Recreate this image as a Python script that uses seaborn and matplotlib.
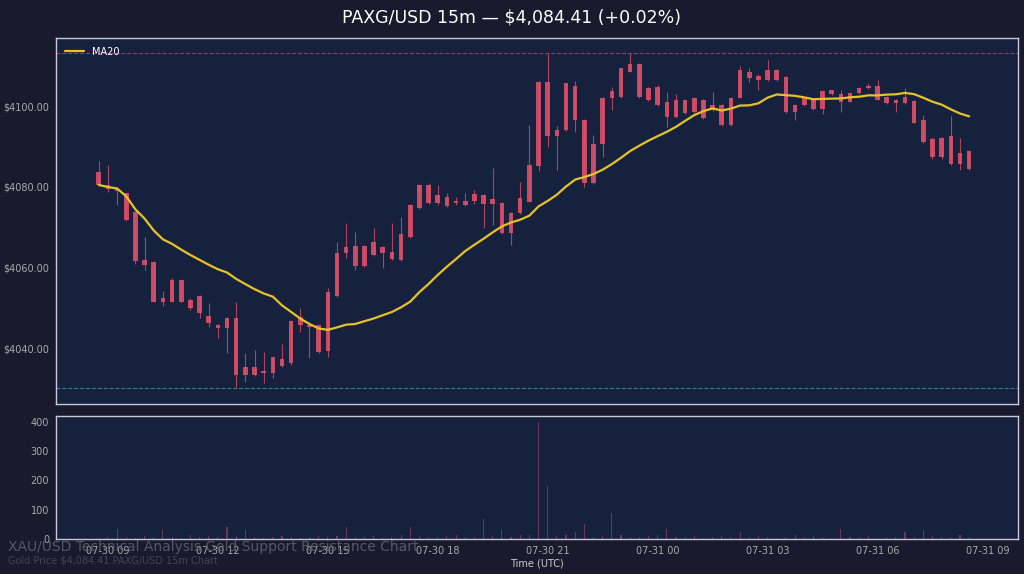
import numpy as np
import pandas as pd
import matplotlib
matplotlib.use("Agg")
import matplotlib.pyplot as plt
import matplotlib.dates as mdates
import seaborn as sns

opens = [4083.8,4080.5,4079.7,4078.4,4073.9,4062.0,4061.5,4052.7,4051.7,4057.0,
         4052.0,4053.0,4048.2,4046.0,4045.2,4047.6,4033.6,4035.5,4034.0,4034.0,
         4035.8,4036.5,4047.9,4045.8,4045.8,4039.5,4053.0,4063.6,4065.4,4060.4,
         4066.5,4063.6,4064.0,4062.0,4067.7,4074.8,4080.5,4076.0,4077.6,4076.5,
         4075.5,4076.5,4078.0,4075.8,4076.1,4068.6,4073.5,4076.4,4085.3,4106.0,
         4092.5,4094.0,4105.0,4096.5,4080.9,4090.6,4101.9,4102.3,4110.5,4110.5,
         4104.4,4104.8,4101.0,4097.4,4101.6,4098.5,4101.6,4100.3,4100.3,4095.3,
         4102.1,4108.5,4107.5,4106.4,4109.0,4107.1,4098.4,4100.2,4101.6,4099.2,
         4103.9,4103.0,4101.1,4103.1,4104.5,4105.0,4102.3,4101.5,4100.7,4101.3,
         4096.5,4091.8,4087.3,4092.5,4088.3,4089.0]
closes = [4080.5,4079.5,4078.9,4071.9,4061.6,4060.8,4051.7,4051.7,4057.0,4051.7,
          4050.0,4048.8,4046.3,4045.2,4047.6,4033.6,4035.5,4033.6,4034.5,4037.9,
          4037.5,4047.0,4046.0,4045.4,4039.3,4054.1,4063.6,4065.3,4060.4,4065.4,
          4063.2,4065.2,4062.2,4068.5,4075.6,4080.5,4076.0,4078.0,4075.2,4076.0,
          4076.5,4078.2,4075.8,4077.0,4068.6,4073.5,4077.2,4085.4,4106.0,4092.5,
          4094.0,4105.6,4096.5,4080.9,4090.6,4101.9,4103.6,4109.3,4108.5,4102.3,
          4101.5,4100.2,4097.4,4101.5,4098.2,4101.9,4097.0,4099.0,4095.3,4102.1,
          4108.9,4106.8,4106.4,4108.9,4106.4,4098.4,4100.2,4101.9,4099.2,4103.8,
          4103.0,4101.1,4103.1,4104.4,4105.0,4101.6,4100.7,4100.7,4102.2,4095.9,
          4091.0,4087.3,4092.0,4085.7,4085.8,4084.4]
highs = [4086.3,4085.4,4080.0,4078.6,4074.0,4067.7,4061.6,4054.2,4057.5,4057.2,
         4052.5,4053.2,4051.3,4046.2,4047.8,4051.7,4038.9,4039.7,4039.3,4038.0,
         4041.3,4047.2,4050.0,4046.3,4046.0,4055.0,4066.5,4071.0,4069.0,4065.6,
         4069.8,4065.5,4071.2,4072.7,4075.8,4080.7,4081.0,4080.5,4078.5,4077.5,
         4078.5,4079.2,4078.3,4084.6,4076.3,4073.8,4081.3,4095.3,4106.2,4113.0,
         4095.0,4105.8,4106.3,4096.7,4092.8,4102.2,4104.8,4109.5,4113.0,4110.7,
         4104.6,4105.2,4103.5,4103.0,4101.8,4102.2,4101.8,4103.5,4100.5,4102.3,
         4110.0,4109.3,4108.0,4111.4,4109.2,4107.3,4100.5,4102.2,4101.8,4104.0,
         4104.0,4103.9,4103.3,4104.6,4105.6,4106.4,4102.5,4101.8,4104.5,4101.5,
         4097.8,4092.3,4092.3,4097.5,4092.0,4089.2]
lows = [4080.3,4078.8,4075.6,4071.5,4061.0,4059.5,4051.5,4050.5,4051.5,4051.5,
        4049.6,4047.6,4045.5,4042.6,4038.9,4030.3,4031.9,4033.2,4031.5,4032.8,
        4035.6,4036.0,4044.3,4037.7,4038.9,4038.1,4052.8,4062.4,4059.5,4060.2,
        4063.0,4059.9,4061.9,4061.8,4067.5,4074.6,4075.8,4075.6,4075.0,4075.6,
        4075.2,4075.8,4069.8,4070.6,4068.4,4065.7,4073.3,4076.2,4084.0,4090.0,
        4084.2,4093.8,4093.7,4080.0,4080.7,4087.5,4099.0,4102.1,4108.3,4102.1,
        4101.3,4100.0,4094.9,4097.0,4098.0,4098.3,4096.8,4098.8,4095.1,4095.1,
        4101.9,4106.0,4104.0,4106.2,4106.2,4098.2,4096.5,4100.0,4099.0,4098.0,
        4102.8,4098.6,4100.9,4102.9,4104.3,4101.4,4100.5,4098.6,4100.5,4095.7,
        4090.8,4087.0,4087.0,4085.5,4084.2,4084.2]
volumes = [5,8,35,6,4,10,8,30,6,5,12,8,10,6,40,9,30,6,5,8,
           10,6,5,8,10,6,9,40,8,6,10,5,8,12,40,9,6,8,10,12,
           8,6,70,10,30,8,12,15,400,180,10,12,25,50,8,10,90,12,8,6,
           10,12,35,8,6,10,5,8,10,6,25,8,10,6,5,8,12,6,10,8,
           5,35,8,6,10,5,8,6,25,8,30,10,6,8,12,6]

t0 = pd.Timestamp("2025-07-30 08:45")
times = pd.date_range(t0, periods=len(closes), freq="15min")
df = pd.DataFrame({"time": times, "open": opens, "high": highs, "low": lows,
                   "close": closes, "volume": volumes})
df["MA20"] = df["close"].rolling(20, min_periods=1).mean()

sns.set_theme(style="dark")
BG = "#1a1a2e"
AX = "#16213e"
CANDLE = "#e04f68"
plt.rcParams["font.family"] = ["DejaVu Sans"]

fig = plt.figure(figsize=(10.24, 5.74), dpi=100, facecolor=BG)
ax = fig.add_axes([56/1024, 1-404/574, (1018-56)/1024, (404-38)/574], facecolor=AX)
axv = fig.add_axes([56/1024, 1-539/574, (1018-56)/1024, (539-416)/574], facecolor=AX, sharex=ax)

w = pd.Timedelta(minutes=15) * 0.5
ax.vlines(df["time"], df["low"], df["high"], color=CANDLE, linewidth=0.8, alpha=0.75)
body_lo = np.minimum(df["open"], df["close"])
body_h = np.maximum(np.abs(df["close"] - df["open"]), 0.3)
ax.bar(df["time"], body_h, bottom=body_lo, width=w, color=CANDLE, alpha=0.9,
       edgecolor="none", linewidth=0)
sns.lineplot(data=df, x="time", y="MA20", ax=ax, color="#e6c229", linewidth=1.6, label="MA20")

ax.axhline(df["high"].max(), color="#c0506a", linestyle="--", linewidth=0.8, alpha=0.7)
ax.axhline(df["low"].min(), color="#3aa6b0", linestyle="--", linewidth=0.8, alpha=0.7)

ax.set_ylim(4026.4, 4116.8)
ax.set_xlim(pd.Timestamp("2025-07-30 07:35"), pd.Timestamp("2025-07-31 09:50"))
ax.set_yticks([4040, 4060, 4080, 4100])
ax.yaxis.set_major_formatter(matplotlib.ticker.FuncFormatter(lambda v, p: f"${v:.2f}"))
ax.set_xlabel("")
ax.set_ylabel("")
ax.tick_params(axis="x", labelbottom=False, colors="#aaaaaa", length=3)
ax.tick_params(axis="y", colors="#aaaaaa", labelsize=7, length=3, pad=2)
leg = ax.legend(loc="upper left", frameon=False, fontsize=7)
for t in leg.get_texts():
    t.set_color("white")

axv.bar(df["time"], df["volume"], width=pd.Timedelta(minutes=15)*0.12, color="#b04a6a",
        alpha=0.55, edgecolor="none", linewidth=0)
axv.set_ylim(0, 420)
axv.set_yticks([0, 100, 200, 300, 400])
axv.xaxis.set_major_locator(mdates.HourLocator(byhour=[0, 3, 6, 9, 12, 15, 18, 21]))
axv.xaxis.set_major_formatter(mdates.DateFormatter("%m-%d %H"))
axv.tick_params(axis="both", colors="#aaaaaa", labelsize=7, length=3, pad=2)
axv.set_xlabel("Time (UTC)", color="#cccccc", fontsize=7, labelpad=2)
axv.set_ylabel("")

for a in (ax, axv):
    for s in a.spines.values():
        s.set_color("#c8c8d8")
        s.set_linewidth(1.0)
        s.set_visible(True)
    a.grid(False)

fig.suptitle("PAXG/USD 15m — $4,084.41 (+0.02%)", color="white", fontsize=12.5, y=0.985)
fig.text(0.008, 0.040, "XAU/USD Technical Analysis Gold Support Resistance Chart",
         color="#666677", fontsize=10, alpha=0.8)
fig.text(0.008, 0.018, "Gold Price $4,084.41 PAXG/USD 15m Chart", color="#555566", fontsize=7, alpha=0.7)

fig.savefig("out.png", dpi=100, facecolor=BG)
